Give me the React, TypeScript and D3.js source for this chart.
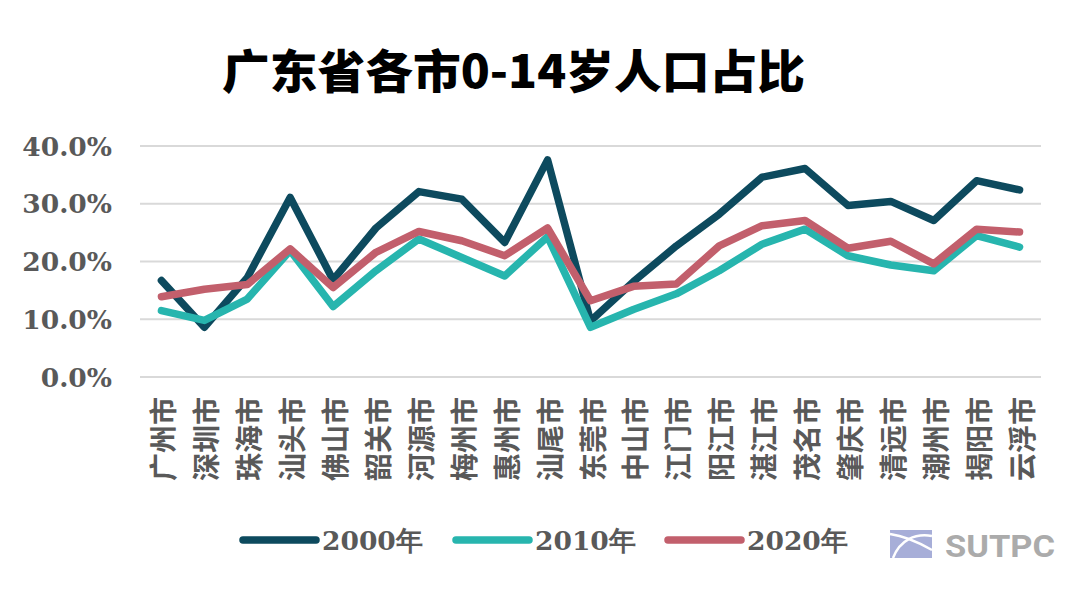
import React from "react";
import * as d3 from "d3";

const cities = ["广州市","深圳市","珠海市","汕头市","佛山市","韶关市","河源市","梅州市","惠州市","汕尾市","东莞市","中山市","江门市","阳江市","湛江市","茂名市","肇庆市","清远市","潮州市","揭阳市","云浮市"];
const v2000 = [16.7,8.6,17.2,31.1,16.8,25.8,32.1,30.8,23.3,37.6,9.7,16.5,22.7,28.2,34.6,36.1,29.7,30.4,27.1,34.0,32.4];
const v2010 = [11.5,9.8,13.5,21.9,12.2,18.4,23.9,20.7,17.5,24.3,8.6,11.7,14.4,18.4,23.0,25.6,21.0,19.4,18.4,24.5,22.5];
const v2020 = [13.9,15.2,16.0,22.2,15.5,21.6,25.2,23.6,21.0,25.8,13.2,15.7,16.1,22.7,26.2,27.1,22.3,23.5,19.6,25.6,25.1];
const yTicks = [0,10,20,30,40];
const seriesNames = ["2000年","2010年","2020年"];
const title = "广东省各市0-14岁人口占比";

const colors = ["#0d4a5e","#27b5ae","#c25f6c"];

export default function App() {
  const W = 1080, H = 591;
  const x = d3.scalePoint<string>().domain(cities).range([140, 1041]).padding(0.5);
  const y = d3.scaleLinear().domain([0, 40]).range([377, 146]);
  const series = [v2000, v2010, v2020];
  const line = d3.line<number>().x((_, i) => x(cities[i]) as number).y(d => y(d)).curve(d3.curveLinear);
  const legendX = [243, 456, 668];
  const serif = "'DejaVu Serif', 'Liberation Serif', serif";
  const cjk = "'Noto Sans CJK SC', 'Noto Sans', sans-serif";
  return (
    <svg width={W} height={H} style={{ position: "absolute", left: 0, top: 0, background: "#fff" }}>
      <rect x={0} y={0} width={W} height={H} fill="#fff" />
      <text x={222} y={88} fontFamily={cjk} fontWeight={900} fontSize={46} fill="#000" textLength={583} lengthAdjust="spacingAndGlyphs">{title}</text>
      {yTicks.map(t => (
        <g key={t}>
          <line x1={140} x2={1041} y1={y(t)} y2={y(t)} stroke="#d9d9d9" strokeWidth={2} />
          <text x={112} y={y(t)} dy="0.36em" textAnchor="end" fontFamily={serif} fontWeight="bold" fontSize={26.5} fill="#595959">{t.toFixed(1)}%</text>
        </g>
      ))}
      {cities.map(c => (
        <text key={c} transform={`translate(${(x(c) as number) + 1},397) rotate(-90)`} textAnchor="end" dominantBaseline="central" fontFamily={cjk} fontWeight={700} fontSize={28} fill="#595959">{c}</text>
      ))}
      {series.map((s, i) => (
        <path key={i} d={line(s) || ""} fill="none" stroke={colors[i]} strokeWidth={7.5} strokeLinejoin="round" strokeLinecap="round" />
      ))}
      {seriesNames.map((n, i) => (
        <g key={n}>
          <line x1={legendX[i]} x2={legendX[i] + 73} y1={540} y2={540} stroke={colors[i]} strokeWidth={7.5} strokeLinecap="round" />
          <text x={legendX[i] + 79} y={540} dy="0.36em" fontFamily={serif} fontWeight="bold" fontSize={26.5} fill="#595959">{n}</text>
        </g>
      ))}
      <g>
        <rect x={890} y={530} width={42} height={28} fill="#a7aed8" />
        <path d="M893,558 C900,540 915,533 932,536" fill="none" stroke="#fff" strokeWidth={2.5} />
        <path d="M890,534 C905,536 918,542 932,550" fill="none" stroke="#fff" strokeWidth={2.5} />
        <text x={945} y={557} fontFamily="Roboto, 'Noto Sans', sans-serif" fontWeight={700} fontSize={31} fill="#ababab" textLength={110} lengthAdjust="spacingAndGlyphs">SUTPC</text>
      </g>
    </svg>
  );
}
